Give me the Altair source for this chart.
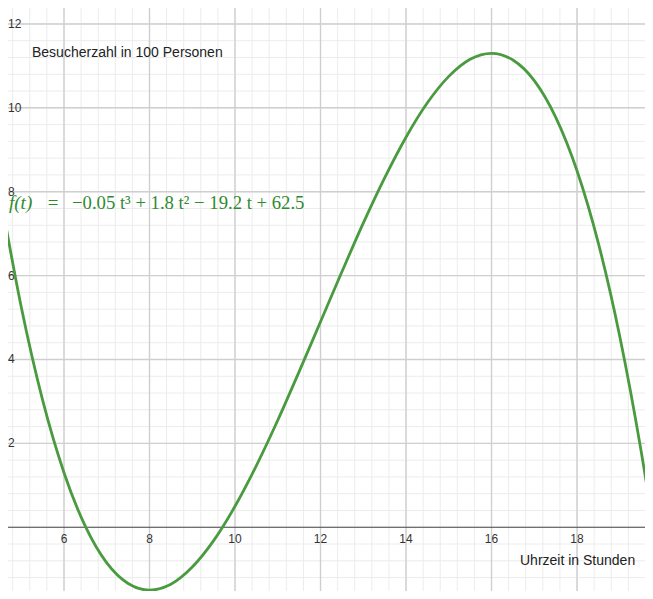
import altair as alt
import pandas as pd
import numpy as np

# values
t_vals = [4.5, 5.0, 5.5, 6.0, 6.5, 7.0, 7.5, 8.0, 8.5, 9.0, 9.5, 10.0, 10.5, 11.0, 11.5,
          12.0, 12.5, 13.0, 13.5, 14.0, 14.5, 15.0, 15.5, 16.0, 16.5, 17.0, 17.5, 18.0,
          18.5, 19.0, 19.5, 19.75, 19.8]
f_vals = [7.99, 5.25, 3.03, 1.30, 0.02, -0.85, -1.34, -1.50, -1.36, -0.95, -0.32, 0.50,
          1.47, 2.55, 3.71, 4.90, 6.09, 7.25, 8.33, 9.30, 10.12, 10.75, 11.16, 11.30,
          11.14, 10.65, 9.78, 8.50, 6.77, 4.55, 1.81, 0.23, -0.11]
x_tick_labels = [6, 8, 10, 12, 14, 16, 18]
y_tick_labels = [2, 4, 6, 8, 10, 12]

XMIN, XMAX = 4.69, 19.59
YMIN, YMAX = -1.52, 12.38

xs = alt.Scale(domain=[XMIN, XMAX], nice=False, zero=False)
ys = alt.Scale(domain=[YMIN, YMAX], nice=False, zero=False)

curve = pd.DataFrame({"t": t_vals, "f": f_vals})

minor_x = [v for v in np.round(np.arange(4.0, 20.01, 0.4), 2) if XMIN <= v <= XMAX]
minor_y = [v for v in np.round(np.arange(-2.0, 12.81, 0.4), 2) if YMIN <= v <= YMAX]
major_x = [v for v in range(4, 21, 2) if XMIN <= v <= XMAX]
major_y = [v for v in range(-2, 13, 2) if YMIN <= v <= YMAX and v != 0]

W, H = 637, 583

def vrules(vals, color, width):
    return alt.Chart(pd.DataFrame({"v": vals})).mark_rule(color=color, strokeWidth=width).encode(
        x=alt.X("v:Q", scale=xs, axis=None))

def hrules(vals, color, width):
    return alt.Chart(pd.DataFrame({"v": vals})).mark_rule(color=color, strokeWidth=width).encode(
        y=alt.Y("v:Q", scale=ys, axis=None))

grid = (vrules(minor_x, "#ececec", 1) + hrules(minor_y, "#ececec", 1) +
        vrules(major_x, "#cfcfcf", 1.4) + hrules(major_y, "#cfcfcf", 1.4))

xaxis = alt.Chart(pd.DataFrame({"v": [0]})).mark_rule(color="#444444", strokeWidth=1.2).encode(
    y=alt.Y("v:Q", scale=ys, axis=None))

xlab = alt.Chart(pd.DataFrame({"x": x_tick_labels, "y": [0] * len(x_tick_labels),
                               "s": [str(v) for v in x_tick_labels]})).mark_text(
    fontSize=12, font="Liberation Sans", color="#333333", baseline="middle", dy=12).encode(
    x=alt.X("x:Q", scale=xs, axis=None), y=alt.Y("y:Q", scale=ys, axis=None), text="s:N")

ylab = alt.Chart(pd.DataFrame({"y": y_tick_labels, "s": [str(v) for v in y_tick_labels]})).mark_text(
    fontSize=12, font="Liberation Sans", color="#333333", baseline="middle", align="left").encode(
    x=alt.value(0), y=alt.Y("y:Q", scale=ys, axis=None), text="s:N")

line = alt.Chart(curve).mark_line(color="#4a9a40", strokeWidth=2.8, interpolate="monotone", clip=True).encode(
    x=alt.X("t:Q", scale=xs, axis=None), y=alt.Y("f:Q", scale=ys, axis=None))

title = alt.Chart(pd.DataFrame({"s": ["Besucherzahl in 100 Personen"]})).mark_text(
    fontSize=14, font="Liberation Sans", color="#222222", align="left", baseline="middle").encode(
    x=alt.value(24), y=alt.value(45), text="s:N")

xtitle = alt.Chart(pd.DataFrame({"s": ["Uhrzeit in Stunden"]})).mark_text(
    fontSize=14, font="Liberation Sans", color="#222222", align="left", baseline="middle").encode(
    x=alt.value(512), y=alt.value(553), text="s:N")

fcol = "#2f8a2f"
f_lhs = alt.Chart(pd.DataFrame({"s": ["f(t)"]})).mark_text(
    fontSize=19, font="Liberation Serif", fontStyle="italic", color=fcol, align="left",
    baseline="middle").encode(x=alt.value(1), y=alt.value(195), text="s:N")
f_eq = alt.Chart(pd.DataFrame({"s": ["="]})).mark_text(
    fontSize=19, font="Liberation Serif", color=fcol, align="center",
    baseline="middle").encode(x=alt.value(45), y=alt.value(195), text="s:N")
f_rhs = alt.Chart(pd.DataFrame({"s": ["\u22120.05 t\u00b3 + 1.8 t\u00b2 \u2212 19.2 t + 62.5"]})).mark_text(
    fontSize=18.7, font="Liberation Serif", color=fcol, align="left",
    baseline="middle").encode(x=alt.value(64), y=alt.value(195), text="s:N")

chart = alt.layer(grid, xaxis, xlab, ylab, line, title, xtitle, f_lhs, f_eq, f_rhs).properties(
    width=W, height=H, padding=0, autosize=alt.AutoSizeParams(type="none"),
    background="white"
).configure_view(stroke=None)

chart.save("out.html", embed_options={"renderer": "svg", "actions": False})
